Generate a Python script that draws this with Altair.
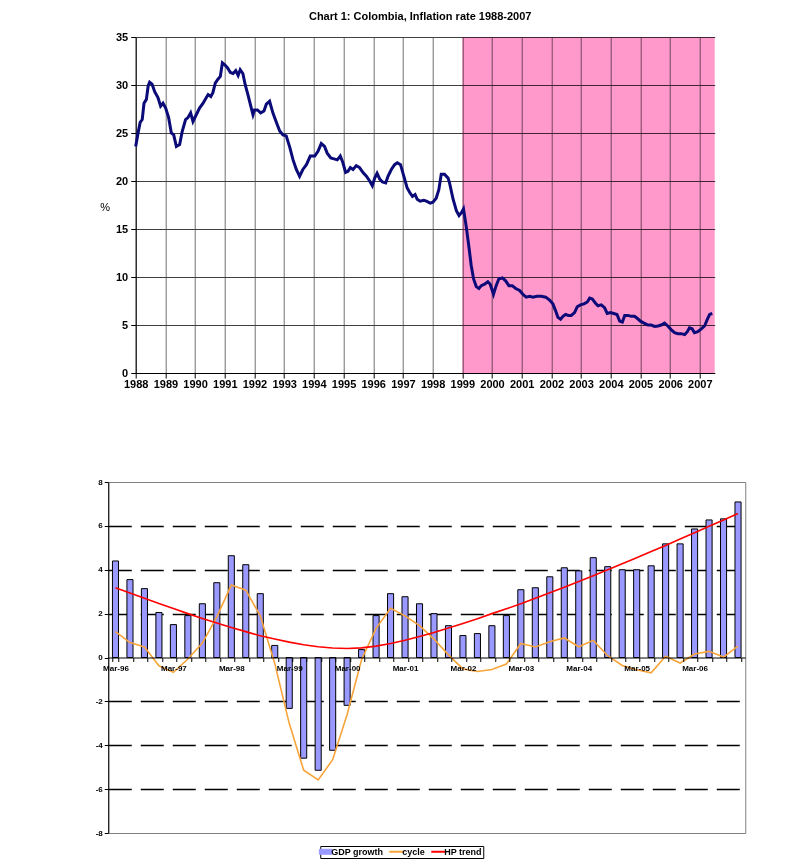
import altair as alt
import pandas as pd

FONT = "Liberation Sans"

# ---------------- Chart 1: inflation ----------------
infl_year = [
    1988.00, 1988.08, 1988.15, 1988.22, 1988.28, 1988.36, 1988.42, 1988.47, 1988.55, 1988.64,
    1988.75, 1988.84, 1988.92, 1989.01, 1989.11, 1989.20, 1989.28, 1989.37, 1989.48, 1989.57,
    1989.68, 1989.76, 1989.85, 1989.93, 1990.04, 1990.15, 1990.27, 1990.38, 1990.44, 1990.53,
    1990.60, 1990.68, 1990.77, 1990.85, 1990.92, 1991.00, 1991.09, 1991.19, 1991.28, 1991.37,
    1991.45, 1991.52, 1991.61, 1991.69, 1991.78, 1991.86, 1991.95, 1992.00, 1992.10, 1992.21,
    1992.32, 1992.40, 1992.51, 1992.62, 1992.74, 1992.85, 1992.96, 1993.07, 1993.19, 1993.30,
    1993.41, 1993.52, 1993.63, 1993.75, 1993.88, 1994.03, 1994.14, 1994.25, 1994.36, 1994.45,
    1994.57, 1994.68, 1994.79, 1994.89, 1994.98, 1995.07, 1995.15, 1995.23, 1995.32, 1995.43,
    1995.54, 1995.65, 1995.77, 1995.88, 1995.97, 1996.05, 1996.13, 1996.22, 1996.31, 1996.42,
    1996.50, 1996.61, 1996.72, 1996.81, 1996.92, 1997.03, 1997.14, 1997.23, 1997.32, 1997.41,
    1997.48, 1997.58, 1997.70, 1997.79, 1997.92, 1998.01, 1998.12, 1998.21, 1998.29, 1998.40,
    1998.52, 1998.57, 1998.69, 1998.80, 1998.89, 1998.97, 1999.04, 1999.13, 1999.22, 1999.30,
    1999.38, 1999.47, 1999.56, 1999.64, 1999.75, 1999.86, 1999.94, 2000.05, 2000.14, 2000.23,
    2000.35, 2000.46, 2000.57, 2000.68, 2000.80, 2000.93, 2001.04, 2001.15, 2001.27, 2001.38,
    2001.51, 2001.66, 2001.81, 2001.94, 2002.05, 2002.14, 2002.22, 2002.31, 2002.39, 2002.48,
    2002.57, 2002.67, 2002.78, 2002.87, 2002.98, 2003.10, 2003.21, 2003.29, 2003.38, 2003.48,
    2003.57, 2003.68, 2003.79, 2003.88, 2003.99, 2004.10, 2004.21, 2004.30, 2004.39, 2004.47,
    2004.58, 2004.69, 2004.80, 2004.89, 2005.00, 2005.12, 2005.25, 2005.36, 2005.48, 2005.59,
    2005.70, 2005.81, 2005.92, 2006.04, 2006.15, 2006.26, 2006.37, 2006.49, 2006.58, 2006.65,
    2006.74, 2006.82, 2006.93, 2007.05, 2007.16, 2007.24, 2007.33, 2007.42,
]
infl_value = [
    23.6, 25.0, 26.1, 26.4, 28.1, 28.5, 29.9, 30.3, 30.1, 29.3,
    28.7, 27.8, 28.1, 27.6, 26.6, 25.0, 24.8, 23.6, 23.8, 25.2,
    26.4, 26.6, 27.1, 26.2, 26.9, 27.6, 28.1, 28.7, 29.0, 28.8,
    29.2, 30.2, 30.6, 30.9, 32.3, 32.1, 31.8, 31.3, 31.2, 31.5,
    31.0, 31.6, 31.2, 30.0, 29.0, 28.0, 26.9, 27.4, 27.4, 27.1,
    27.3, 28.0, 28.3, 27.1, 26.1, 25.2, 24.8, 24.7, 23.5, 22.2,
    21.2, 20.5, 21.2, 21.7, 22.6, 22.6, 23.1, 23.9, 23.6, 22.9,
    22.4, 22.3, 22.2, 22.6, 21.9, 20.9, 21.0, 21.4, 21.2, 21.6,
    21.4, 20.9, 20.5, 20.0, 19.5, 20.3, 20.8, 20.2, 19.9, 19.8,
    20.5, 21.2, 21.7, 21.9, 21.7, 20.5, 19.3, 18.8, 18.4, 18.6,
    18.1, 17.9, 18.0, 17.9, 17.7, 17.8, 18.2, 19.1, 20.7, 20.7,
    20.3, 19.8, 18.1, 16.9, 16.4, 16.7, 17.1, 15.3, 13.2, 11.2,
    9.8, 9.0, 8.8, 9.1, 9.25, 9.5, 9.25, 8.2, 9.1, 9.8,
    9.9, 9.6, 9.1, 9.1, 8.8, 8.6, 8.2, 7.9, 8.0, 7.9,
    8.0, 8.0, 7.9, 7.6, 7.2, 6.5, 5.8, 5.6, 5.9, 6.1,
    6.0, 6.0, 6.3, 6.9, 7.1, 7.2, 7.4, 7.8, 7.7, 7.3,
    7.0, 7.1, 6.8, 6.2, 6.3, 6.2, 6.1, 5.4, 5.3, 6.0,
    6.0, 5.9, 5.9, 5.7, 5.4, 5.2, 5.0, 5.0, 4.85, 4.9,
    5.0, 5.2, 4.9, 4.5, 4.2, 4.1, 4.1, 4.0, 4.3, 4.7,
    4.6, 4.2, 4.3, 4.6, 4.9, 5.5, 6.1, 6.2,
]
year_ticks = list(range(1988, 2008))
pct_ticks = [0, 5, 10, 15, 20, 25, 30, 35]
shade_start = [1999.0]
shade_end = [2007.5]

# ---------------- Chart 2: GDP growth, cycle, HP trend ----------------
quarters = [f"{m}-{y:02d}" for y in [96, 97, 98, 99, 0, 1, 2, 3, 4, 5, 6]
            for m in ["Mar", "Jun", "Sep", "Dec"]]
gdp_growth = [4.4, 3.55, 3.14, 2.05, 1.5, 1.91, 2.45, 3.41, 4.64, 4.23,
              2.91, 0.55, -2.32, -4.59, -5.14, -4.23, -2.18, 0.36, 1.91, 2.91,
              2.77, 2.45, 2.0, 1.45, 1.0, 1.09, 1.45, 1.91, 3.09, 3.18,
              3.68, 4.09, 3.95, 4.55, 4.14, 4.0, 4.0, 4.18, 5.18, 5.18,
              5.86, 6.27, 6.32, 7.09]
cycle = [1.18, 0.68, 0.48, -0.38, -0.68, -0.07, 0.66, 1.85, 3.3, 3.07,
         1.9, -0.27, -3.0, -5.14, -5.58, -4.66, -2.6, -0.09, 1.33, 2.24,
         1.9, 1.45, 0.84, 0.12, -0.52, -0.64, -0.55, -0.3, 0.64, 0.48,
         0.72, 0.89, 0.49, 0.78, 0.08, -0.36, -0.56, -0.7, 0.06, -0.25,
         0.16, 0.28, 0.02, 0.52]
hp_trend = [3.18, 2.94, 2.70, 2.46, 2.23, 2.00, 1.78, 1.57, 1.37, 1.18,
            0.99, 0.84, 0.70, 0.58, 0.49, 0.43, 0.41, 0.44, 0.52, 0.64,
            0.79, 0.96, 1.14, 1.34, 1.55, 1.77, 2.00, 2.22, 2.45, 2.70,
            2.95, 3.20, 3.46, 3.73, 4.00, 4.27, 4.55, 4.83, 5.11, 5.40,
            5.69, 5.98, 6.27, 6.56]
gdp_ticks = [-8, -6, -4, -2, 0, 2, 4, 6, 8]
series_names = ["GDP growth", "cycle", "HP trend"]
series_colors = ["#9999FF", "#F7A43A", "#FF0000"]

# ---------------- Top chart ----------------
infl_df = pd.DataFrame({"year": infl_year, "value": infl_value})
shade_df = pd.DataFrame({"start": shade_start, "end": shade_end})

x_top_scale = alt.Scale(domain=[1988, 2007.5], nice=False, zero=False)
y_top_scale = alt.Scale(domain=[0, 35], nice=False)

x_top_axis = alt.Axis(values=year_ticks, format="d", title=None, grid=True,
                      gridColor="#707070", gridWidth=1, tickColor="black", tickSize=5,
                      domainColor="black", labelFont=FONT, labelFontSize=11,
                      labelFontWeight="bold", labelColor="black", labelPadding=0,
                      labelFlush=False, labelOverlap=False)
y_top_axis = alt.Axis(values=pct_ticks, title="%", titleAngle=0, titleX=-31, titleY=170,
                      titleAlign="center", titleBaseline="middle", titleFont=FONT,
                      titleFontSize=11, titleFontWeight="normal", titleColor="black",
                      grid=True, gridColor="#404040", tickColor="black", tickSize=5,
                      domainColor="black", labelFont=FONT, labelFontSize=11,
                      labelFontWeight="bold", labelColor="black", labelPadding=3,
                      minExtent=112, maxExtent=112)

shade = alt.Chart(shade_df).mark_rect(color="#FF99CC", blend="multiply").encode(
    x=alt.X("start:Q", scale=x_top_scale, axis=x_top_axis),
    x2="end:Q",
    y=alt.datum(0, scale=y_top_scale, axis=y_top_axis),
    y2=alt.datum(35),
)
infl_line = alt.Chart(infl_df).mark_line(color="#0A0A78", strokeWidth=3).encode(
    x=alt.X("year:Q", scale=x_top_scale, axis=x_top_axis),
    y=alt.Y("value:Q", scale=y_top_scale, axis=y_top_axis),
)
top = alt.layer(shade, infl_line).properties(
    width=579, height=336,
    title=alt.TitleParams("Chart 1: Colombia, Inflation rate 1988-2007", font=FONT,
                          fontSize=11, fontWeight="bold", color="black", offset=9,
                          anchor="middle", dx=-5),
    view=alt.ViewBackground(stroke=None),
)

# ---------------- Bottom chart ----------------
q_df = pd.DataFrame({"quarter": quarters, "GDP growth": gdp_growth,
                     "cycle": cycle, "HP trend": hp_trend})

color_scale = alt.Scale(domain=series_names, range=series_colors)
legend = alt.Legend(
    title=None, orient="none", legendX=212, legendY=364, direction="horizontal",
    strokeColor="black", fillColor="white", padding=1, columnPadding=2,
    labelFont=FONT, labelFontSize=9, labelFontWeight="bold", labelColor="black",
    symbolSize=225, symbolOffset=0, labelOffset=1,
    symbolType={"expr": "datum.value == 'GDP growth' ? 'M-0.85,-0.33L0.85,-0.33L0.85,0.33L-0.85,0.33Z' : 'stroke'"},
    symbolFillColor={"expr": "datum.value == 'GDP growth' ? '#9999FF' : 'transparent'"},
    symbolStrokeColor={"expr": "datum.value == 'GDP growth' ? 'black' : (datum.value == 'cycle' ? '#F7A43A' : '#FF0000')"},
    symbolStrokeWidth={"expr": "datum.value == 'GDP growth' ? 1 : 2"},
    symbolOpacity=1,
)

x_bot = alt.X("quarter:N", sort=quarters,
              scale=alt.Scale(paddingInner=0.58, paddingOuter=0.29),
              axis=alt.Axis(title=None, offset=-175.5, tickBand="extent", tickSize=4,
                            tickColor="black", domainColor="black", labelAngle=0,
                            labelExpr="substring(datum.label, 0, 3) == 'Mar' ? datum.label : ''",
                            labelFont=FONT, labelFontSize=8, labelFontWeight="bold",
                            labelColor="black", labelPadding=3, zindex=1,
                            labelOverlap=False))
y_bot_scale = alt.Scale(domain=[-8, 8], nice=False)
y_bot_axis = alt.Axis(values=gdp_ticks, title=None, grid=True, gridColor="black",
                      gridDash=[23, 9], gridWidth=1.3,
                      gridOpacity={"condition": {"test": "abs(datum.value) == 8 || datum.value == 0", "value": 0}, "value": 1},
                      labelExpr="datum.value + ''",
                      tickColor="black", tickSize=4, domainColor="black",
                      labelFont=FONT, labelFontSize=8, labelFontWeight="bold",
                      labelColor="black", labelPadding=2, minExtent=99, maxExtent=99)

bars = alt.Chart(q_df).transform_calculate(series="'GDP growth'").mark_bar(
    stroke="black", strokeWidth=1, opacity=1
).encode(
    x=x_bot,
    y=alt.Y("GDP growth:Q", scale=y_bot_scale, axis=y_bot_axis),
    color=alt.Color("series:N", scale=color_scale, legend=legend),
)
lines = alt.Chart(q_df).transform_fold(["cycle", "HP trend"], as_=["series", "val"]).mark_line(
    strokeWidth=1.6
).encode(
    x=x_bot,
    y=alt.Y("val:Q", scale=y_bot_scale, axis=y_bot_axis),
    color=alt.Color("series:N", scale=color_scale, legend=legend),
)
bottom = alt.layer(bars, lines).properties(
    width=637, height=351,
    view=alt.ViewBackground(stroke="#808080"),
)

chart = alt.vconcat(top, bottom, spacing=88, center=True).resolve_legend(
    color="independent"
).properties(
    padding={"left": 0, "top": 3, "right": 5, "bottom": 0},
).configure(font=FONT).configure_view(strokeWidth=1)

chart.save("out.html", embed_options={"renderer": "svg", "actions": False})
